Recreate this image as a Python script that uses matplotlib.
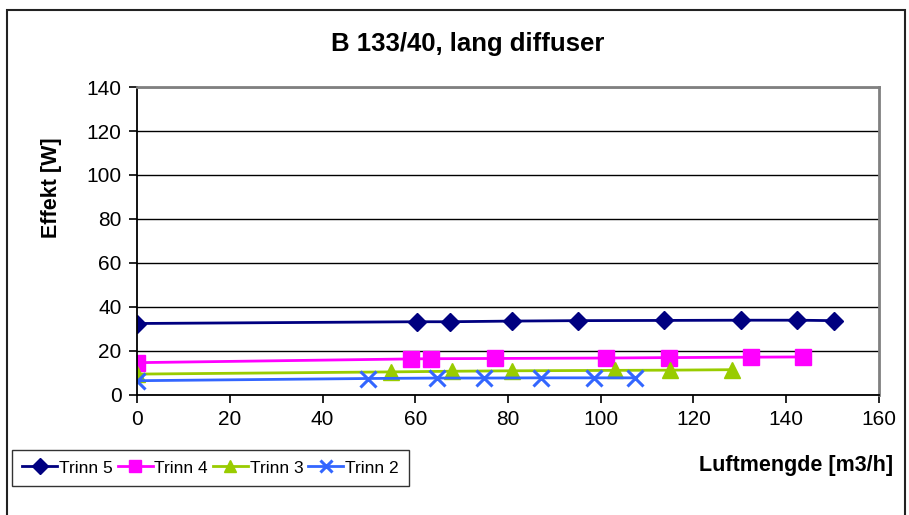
import matplotlib.pyplot as plt
from matplotlib.patches import Rectangle

plt.rcParams['font.family'] = ['Liberation Sans', 'DejaVu Sans']

# data
trinn5_x = [0, 60.4, 67.5, 80.9, 95.1, 113.6, 130.2, 142.3, 150.3]
trinn5_y = [32.5, 33.3, 33.3, 33.6, 33.8, 33.9, 34.0, 34.0, 33.8]
trinn4_x = [0, 59.1, 63.4, 77.2, 101.1, 114.7, 132.4, 143.6]
trinn4_y = [14.7, 16.4, 16.5, 16.6, 16.8, 17.0, 17.2, 17.3]
trinn3_x = [0, 54.8, 68.0, 80.9, 103.1, 114.9, 128.3]
trinn3_y = [9.5, 10.5, 10.8, 11.0, 11.2, 11.3, 11.5]
trinn2_x = [0, 49.8, 64.7, 74.8, 87.1, 98.5, 107.4]
trinn2_y = [6.5, 7.5, 7.7, 7.7, 7.8, 7.8, 7.8]

W, H = 909, 515
fig = plt.figure(figsize=(W / 100, H / 100), dpi=100)
ax = fig.add_axes([137 / W, 1 - 395 / H, (879 - 137) / W, (395 - 87) / H])

ax.plot(trinn5_x, trinn5_y, color='#000080', lw=2, marker='D', ms=9, label='Trinn 5')
ax.plot(trinn4_x, trinn4_y, color='#FF00FF', lw=2, marker='s', ms=11, label='Trinn 4')
ax.plot(trinn3_x, trinn3_y, color='#99CC00', lw=2, marker='^', ms=11, label='Trinn 3')
ax.plot(trinn2_x, trinn2_y, color='#3366FF', lw=2, marker='x', ms=11, mew=2.2, label='Trinn 2')

ax.set_xlim(0, 160)
ax.set_ylim(0, 140)
ax.set_xticks(range(0, 161, 20))
ax.set_yticks(range(0, 141, 20))
ax.yaxis.grid(True, color='black', lw=1)
ax.set_axisbelow(True)
for s in ['top', 'right']:
    ax.spines[s].set_color('#808080')
    ax.spines[s].set_linewidth(2)
for s in ['left', 'bottom']:
    ax.spines[s].set_color('black')
    ax.spines[s].set_linewidth(1.3)
ax.tick_params(labelsize=15, length=6, width=1.2, direction='out', pad=5)

fig.text(468 / W, 1 - 44 / H, 'B 133/40, lang diffuser', ha='center', va='center',
         fontsize=18.5, fontweight='bold')
fig.text(52 / W, 1 - 188 / H, 'Effekt [W]', rotation=90, ha='center', va='center',
         fontsize=15.5, fontweight='bold')
fig.text(893 / W, 1 - 465 / H, 'Luftmengde [m3/h]', ha='right', va='center',
         fontsize=15.5, fontweight='bold')

leg = fig.legend(loc='upper left', bbox_to_anchor=(12 / W, 1 - 450 / H), ncol=4,
                 fontsize=12.5, frameon=True, fancybox=False, borderpad=0.6,
                 handlelength=2.0, handletextpad=0.1, columnspacing=0.3,
                 borderaxespad=0, markerscale=0.85)
leg.get_frame().set_edgecolor('black')
leg.get_frame().set_linewidth(1)

fig.patches.append(Rectangle((7 / W, -0.1), (905 - 7) / W, 1.1 - 10 / H,
                             transform=fig.transFigure, fill=False,
                             edgecolor='#222222', lw=1.5))

fig.savefig('out.png', dpi=100)
